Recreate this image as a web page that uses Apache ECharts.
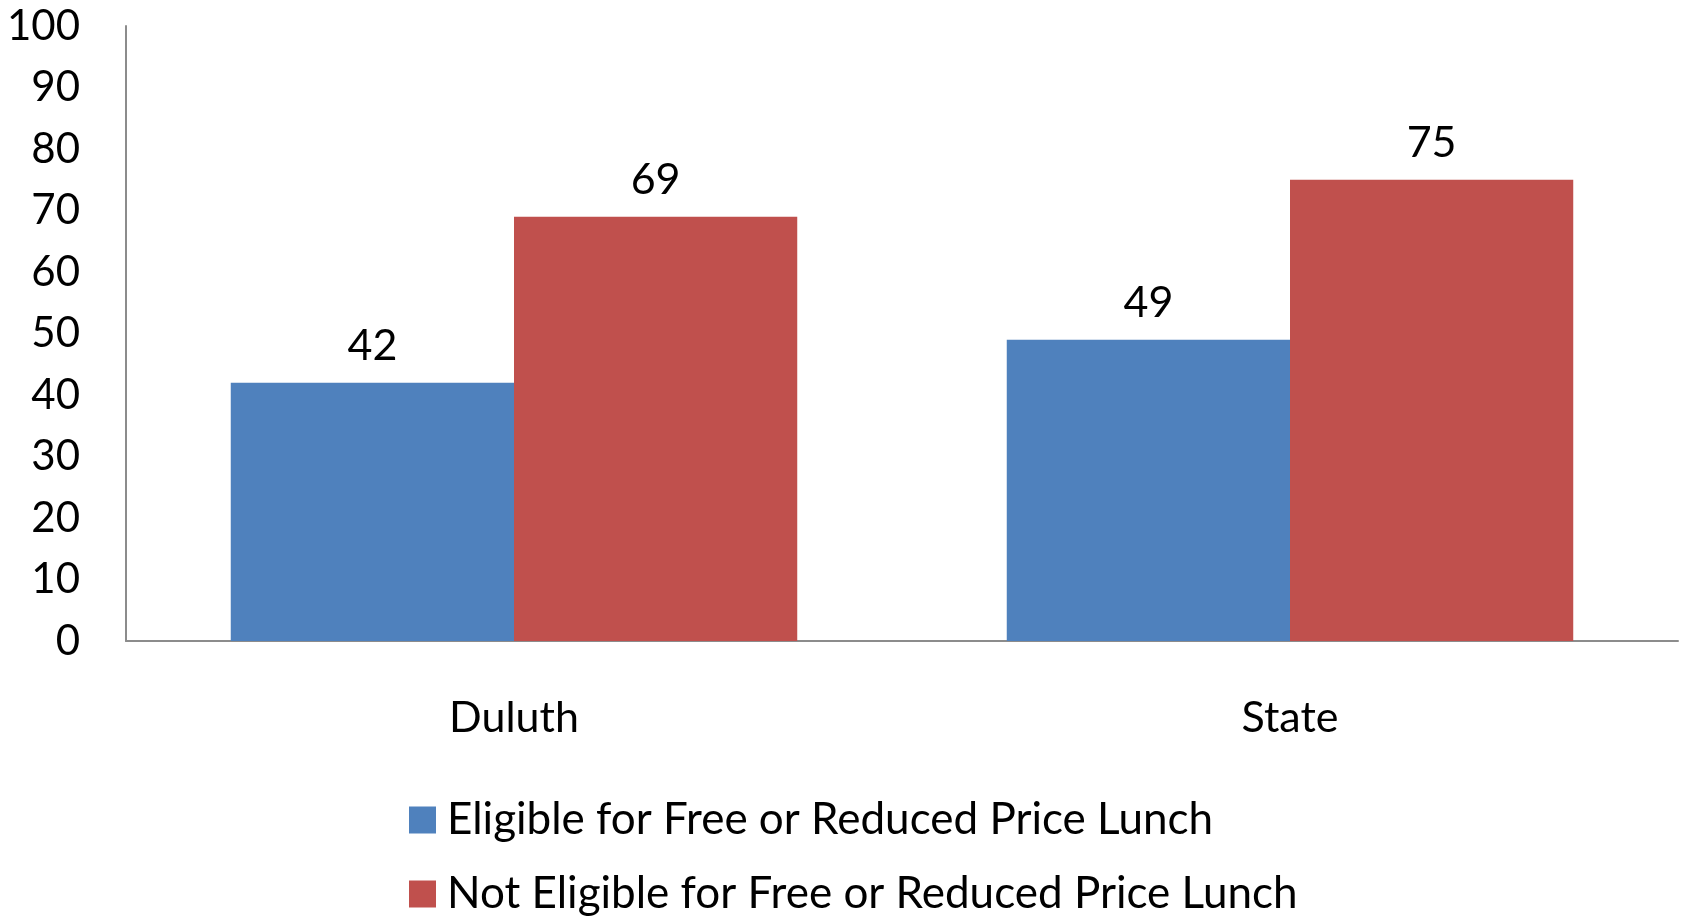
<!DOCTYPE html>
<html>
<head>
<meta charset="utf-8">
<script src="https://cdn.jsdelivr.net/npm/echarts@6/dist/echarts.min.js"></script>
<style>
  html, body { margin: 0; padding: 0; background: #fff; }
  #chart { width: 1685px; height: 916px; }
</style>
</head>
<body>
<div id="chart"></div>
<script>
const categories = ['Duluth', 'State']
const eligible = [42, 49]
const notEligible = [69, 75]
const seriesNames = ['Eligible for Free or Reduced Price Lunch', 'Not Eligible for Free or Reduced Price Lunch']

const mychart = echarts.init(document.getElementById('chart'))
const font = 'Lato'
const labelStyle = {
  show: true,
  position: 'top',
  distance: 15,
  color: '#000',
  fontFamily: font,
  fontSize: 43
}
// one legend per row so each sits on its own line
const legendRow = (name, top) => ({
  left: 404,
  top: top,
  itemWidth: 27,
  itemHeight: 27,
  icon: 'rect',
  textStyle: { color: '#000', fontSize: 44, fontFamily: font, padding: [0, 0, 0, 6] },
  data: [name]
})
const option = {
  animation: false,
  textStyle: { fontFamily: font },
  grid: { left: 126, right: 7, top: 26, bottom: 275, containLabel: false },
  legend: [legendRow(seriesNames[0], 793), legendRow(seriesNames[1], 867)],
  xAxis: {
    type: 'category',
    data: categories,
    axisLine: { lineStyle: { color: '#8c8c8c', width: 2 } },
    axisTick: { show: false },
    axisLabel: { color: '#000', fontSize: 43, fontFamily: font, margin: 56 }
  },
  yAxis: {
    type: 'value',
    min: 0,
    max: 100,
    interval: 10,
    splitLine: { show: false },
    axisLine: { show: true, lineStyle: { color: '#8c8c8c', width: 2 } },
    axisTick: { show: false },
    axisLabel: { color: '#000', fontSize: 42, fontFamily: font, margin: 46 }
  },
  series: [
    {
      name: seriesNames[0],
      type: 'bar',
      barGap: '0%',
      barCategoryGap: '27%',
      itemStyle: { color: '#4F81BD' },
      label: labelStyle,
      data: eligible
    },
    {
      name: seriesNames[1],
      type: 'bar',
      barGap: '0%',
      barCategoryGap: '27%',
      itemStyle: { color: '#C0504D' },
      label: labelStyle,
      data: notEligible
    }
  ]
}
mychart.setOption(option)
</script>
</body>
</html>
